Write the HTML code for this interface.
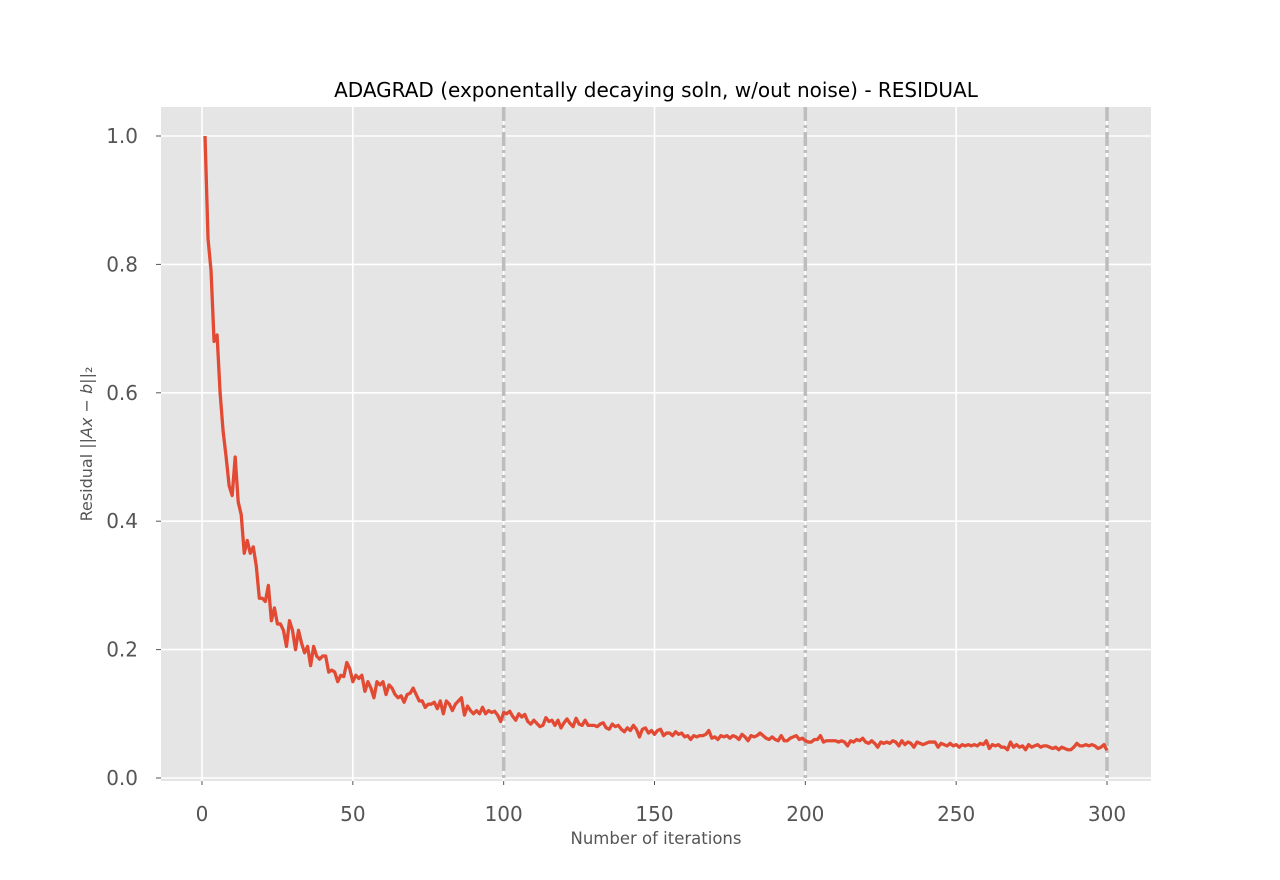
<!DOCTYPE html>
<html><head><meta charset="utf-8"><style>
html,body{margin:0;padding:0;background:#fff;}
svg{display:block;font-family:"DejaVu Sans","Liberation Sans",sans-serif;}
</style></head><body>
<svg id="chart" width="1280" height="880" viewBox="0 0 1280 880">
<text x="656" y="97" text-anchor="middle" font-size="20" fill="#000">ADAGRAD (exponentally decaying soln, w/out noise) - RESIDUAL</text>
<rect x="161" y="107" width="990" height="674" fill="#e5e5e5"/>
<g id="grid"></g><g id="vlines"></g><g id="series"></g><g id="ticks"></g>
<text x="656" y="844" text-anchor="middle" font-size="16.5" fill="#555">Number of iterations</text>
<text transform="translate(92,444) rotate(-90)" text-anchor="middle" font-size="16" fill="#555">Residual ||<tspan font-style="italic">Ax</tspan> − <tspan font-style="italic">b</tspan>||₂</text>
</svg>
<script>
const xTicks=[0,50,100,150,200,250,300];
const yTicks=[0.0,0.2,0.4,0.6,0.8,1.0];
const yTickLabels=["0.0","0.2","0.4","0.6","0.8","1.0"];
const markers=[100,200,300];
const residual=[1.0,0.84,0.79,0.68,0.69,0.60,0.54,0.50,0.455,0.44,0.50,0.43,0.41,0.35,0.37,0.35,0.36,0.33,0.28,0.28,
0.275,0.30,0.245,0.265,0.24,0.24,0.23,0.205,0.245,0.23,0.20,0.23,0.21,0.195,0.205,0.175,0.205,0.19,0.185,0.19,
0.19,0.165,0.168,0.165,0.15,0.16,0.158,0.18,0.17,0.15,0.16,0.155,0.16,0.135,0.15,0.14,0.125,0.15,0.145,0.15,
0.13,0.145,0.14,0.13,0.125,0.128,0.118,0.13,0.132,0.14,0.13,0.12,0.12,0.11,0.115,0.115,0.118,0.108,0.12,0.10,
0.12,0.115,0.105,0.115,0.12,0.125,0.098,0.112,0.105,0.10,0.105,0.10,0.11,0.10,0.105,0.102,0.104,0.098,0.088,0.102,
0.100,0.104,0.096,0.090,0.100,0.095,0.099,0.088,0.084,0.090,0.085,0.080,0.082,0.094,0.088,0.090,0.082,0.090,0.078,0.086,
0.092,0.085,0.080,0.093,0.084,0.082,0.090,0.082,0.082,0.082,0.080,0.084,0.086,0.078,0.076,0.084,0.080,0.082,0.076,0.072,
0.078,0.074,0.082,0.076,0.064,0.076,0.078,0.070,0.074,0.068,0.074,0.076,0.066,0.070,0.070,0.066,0.072,0.068,0.070,0.064,
0.066,0.060,0.066,0.064,0.066,0.066,0.068,0.074,0.062,0.064,0.060,0.066,0.064,0.066,0.062,0.066,0.064,0.060,0.068,0.064,
0.058,0.066,0.064,0.066,0.070,0.066,0.062,0.060,0.064,0.060,0.058,0.066,0.058,0.058,0.062,0.064,0.066,0.060,0.062,0.058,
0.056,0.056,0.060,0.060,0.066,0.056,0.058,0.058,0.058,0.058,0.056,0.058,0.056,0.050,0.058,0.056,0.060,0.058,0.062,0.056,
0.054,0.058,0.054,0.048,0.056,0.054,0.056,0.054,0.058,0.056,0.050,0.058,0.052,0.056,0.054,0.048,0.056,0.054,0.052,0.054,
0.056,0.056,0.056,0.048,0.054,0.052,0.050,0.054,0.050,0.052,0.048,0.052,0.050,0.052,0.050,0.052,0.050,0.054,0.052,0.058,
0.046,0.052,0.050,0.052,0.048,0.048,0.044,0.056,0.048,0.052,0.048,0.050,0.044,0.052,0.048,0.050,0.052,0.048,0.050,0.050,
0.048,0.046,0.048,0.044,0.048,0.046,0.044,0.044,0.048,0.054,0.050,0.050,0.052,0.050,0.052,0.050,0.046,0.048,0.052,0.043];
const NS="http://www.w3.org/2000/svg";
const X0=161,X1=1151,Y0=107,Y1=781;
const xs=v=>202+(v-0)*(1107-202)/300;
const ys=v=>778-v*642;
function mk(tag,attrs,parent){const e=document.createElementNS(NS,tag);for(const k in attrs)e.setAttribute(k,attrs[k]);parent.appendChild(e);return e;}
const grid=document.getElementById('grid'),ticks=document.getElementById('ticks'),vl=document.getElementById('vlines'),ser=document.getElementById('series');
xTicks.forEach(t=>{
 const l=mk('line',{x1:xs(t),x2:xs(t),y1:Y0,y2:Y1,stroke:'#fff','stroke-width':1.6},grid);
 
 
 const tk=mk('line',{x1:xs(t),x2:xs(t),y1:Y1,y2:Y1+4,stroke:'#555','stroke-width':1},ticks);
 
 
 const tx=mk('text',{x:xs(t),y:Y1+40,'text-anchor':'middle','font-size':20,fill:'#555'},ticks);
 tx.textContent=String(t);
 
 
});
yTicks.forEach((t,i)=>{
 const l=mk('line',{x1:X0,x2:X1,y1:ys(t),y2:ys(t),stroke:'#fff','stroke-width':1.6},grid);
 
 
 const tk=mk('line',{x1:X0-5,x2:X0,y1:ys(t),y2:ys(t),stroke:'#555','stroke-width':1},ticks);
 
 
 const tx=mk('text',{x:X0-23,y:ys(t)+7,'text-anchor':'end','font-size':20,fill:'#555'},ticks);
 tx.textContent=yTickLabels[i];
 
 
});
markers.forEach(m=>{
 const l=mk('line',{x1:xs(m),x2:xs(m),y1:Y0,y2:Y1,stroke:'#bdbdbd','stroke-width':3.5,'stroke-dasharray':'14 4 3 4'},vl);
 
 
});
const pts=residual.map((v,i)=>xs(i+1).toFixed(2)+','+ys(v).toFixed(2)).join(' ');
const pl=mk('polyline',{points:pts,fill:'none',stroke:'#e24a33','stroke-width':3.3,'stroke-linejoin':'round'},ser);


</script>
</body></html>
